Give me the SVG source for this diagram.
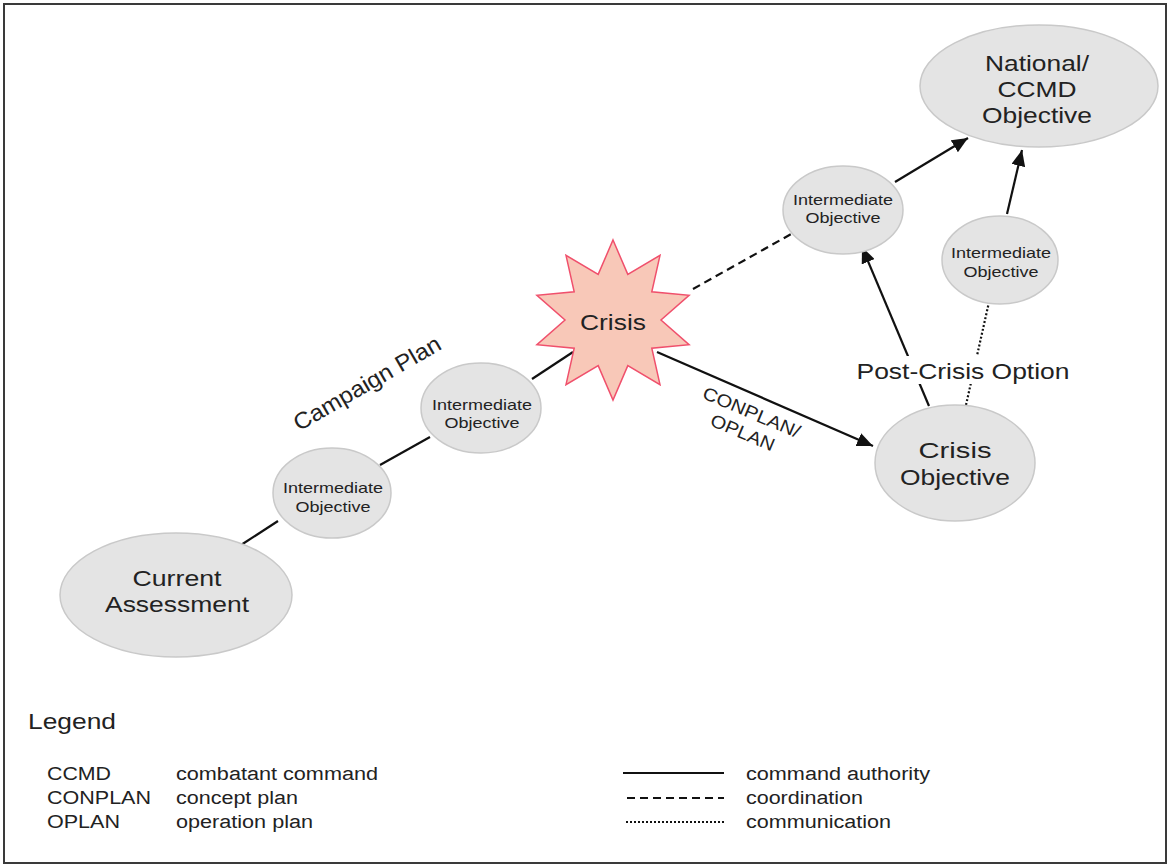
<svg xmlns="http://www.w3.org/2000/svg" width="1169" height="865" viewBox="0 0 1169 865">
<style>
  .node { fill: #e4e4e4; stroke: #c9c9c9; stroke-width: 1.5; }
  .t { font-family: "Liberation Sans", Arial, sans-serif; fill: #222; }
  .big { font-size: 22px; text-anchor: middle; }
  .small { font-size: 15px; text-anchor: middle; }
  .leg { font-size: 18px; }
  .line { stroke: #111; stroke-width: 2.2; fill: none; }
  .dash { stroke-dasharray: 8 5; }
  .dot { stroke-dasharray: 2 2; }
</style>
<defs>
  <marker id="arrow" markerUnits="userSpaceOnUse" markerWidth="18" markerHeight="14" refX="16" refY="7" orient="auto">
    <path d="M0,0 L16,7 L0,14 Z" fill="#111"/>
  </marker>
</defs>
<rect x="0" y="0" width="1169" height="865" fill="#ffffff"/>
<rect x="4" y="4" width="1162" height="859" fill="none" stroke="#3a3a3a" stroke-width="2"/>

<g id="connectors">
  <line class="line" x1="241" y1="545" x2="278" y2="521"/>
  <line class="line" x1="380" y1="465" x2="430" y2="437"/>
  <line class="line" x1="532" y1="379" x2="573" y2="352"/>
  <line class="line" x1="657" y1="352" x2="873" y2="446" marker-end="url(#arrow)"/>
  <line class="line dash" x1="693" y1="289" x2="802" y2="228"/>
  <line class="line" x1="895" y1="182" x2="968" y2="138" marker-end="url(#arrow)"/>
  <line class="line" x1="929" y1="406" x2="862" y2="247" marker-end="url(#arrow)"/>
  <line class="line dot" x1="966" y1="405" x2="989" y2="302"/>
  <line class="line" x1="1007" y1="214" x2="1022" y2="150" marker-end="url(#arrow)"/>
  <text class="t" font-size="23" text-anchor="middle" textLength="166" lengthAdjust="spacingAndGlyphs" transform="translate(371,390) rotate(-30)">Campaign Plan</text>
  <g transform="translate(749,418) rotate(23)">
    <text class="t" font-size="18" text-anchor="middle" x="0" y="0" textLength="104" lengthAdjust="spacingAndGlyphs">CONPLAN/</text>
    <text class="t" font-size="18" text-anchor="middle" x="0" y="22" textLength="68" lengthAdjust="spacingAndGlyphs">OPLAN</text>
  </g>
  <rect x="853" y="356" width="221" height="28" fill="#ffffff"/>
  <text class="t big" x="963" y="379" textLength="213" lengthAdjust="spacingAndGlyphs">Post-Crisis Option</text>
</g>

<g id="national-objective">
  <ellipse class="node" cx="1039" cy="86" rx="119" ry="61"/>
  <text class="t big" x="1037" y="71" textLength="104" lengthAdjust="spacingAndGlyphs">National/</text>
  <text class="t big" x="1037" y="97" textLength="79" lengthAdjust="spacingAndGlyphs">CCMD</text>
  <text class="t big" x="1037" y="123" textLength="110" lengthAdjust="spacingAndGlyphs">Objective</text>
</g>

<g id="intermediate-top">
  <ellipse class="node" cx="843" cy="210" rx="60" ry="44"/>
  <text class="t small" x="843" y="205" textLength="100" lengthAdjust="spacingAndGlyphs">Intermediate</text>
  <text class="t small" x="843" y="223" textLength="75" lengthAdjust="spacingAndGlyphs">Objective</text>
</g>

<g id="intermediate-right">
  <ellipse class="node" cx="1000" cy="260" rx="58" ry="44"/>
  <text class="t small" x="1001" y="258" textLength="100" lengthAdjust="spacingAndGlyphs">Intermediate</text>
  <text class="t small" x="1001" y="277" textLength="75" lengthAdjust="spacingAndGlyphs">Objective</text>
</g>

<g id="crisis">
  <polygon points="613,240 627.8,274.4 660,255.3 651.8,291.8 689.1,295.3 661,320 689.1,344.7 651.8,348.2 660,384.7 627.8,365.6 613,400 598.2,365.6 566,384.7 574.2,348.2 536.9,344.7 565,320 536.9,295.3 574.2,291.8 566,255.3 598.2,274.4" fill="#f8c8b8" stroke="#f0506c" stroke-width="1.5"/>
  <text class="t big" x="613" y="330" textLength="66" lengthAdjust="spacingAndGlyphs">Crisis</text>
</g>

<g id="crisis-objective">
  <ellipse class="node" cx="955" cy="463" rx="80" ry="58"/>
  <text class="t big" x="955" y="458" textLength="73" lengthAdjust="spacingAndGlyphs">Crisis</text>
  <text class="t big" x="955" y="485" textLength="110" lengthAdjust="spacingAndGlyphs">Objective</text>
</g>

<g id="intermediate-2">
  <ellipse class="node" cx="481" cy="408" rx="60" ry="45"/>
  <text class="t small" x="482" y="410" textLength="100" lengthAdjust="spacingAndGlyphs">Intermediate</text>
  <text class="t small" x="482" y="428" textLength="75" lengthAdjust="spacingAndGlyphs">Objective</text>
</g>

<g id="intermediate-1">
  <ellipse class="node" cx="332" cy="493" rx="59" ry="45"/>
  <text class="t small" x="333" y="493" textLength="100" lengthAdjust="spacingAndGlyphs">Intermediate</text>
  <text class="t small" x="333" y="512" textLength="75" lengthAdjust="spacingAndGlyphs">Objective</text>
</g>

<g id="current-assessment">
  <ellipse class="node" cx="176" cy="595" rx="116" ry="62"/>
  <text class="t big" x="177" y="586" textLength="89" lengthAdjust="spacingAndGlyphs">Current</text>
  <text class="t big" x="177" y="612" textLength="144" lengthAdjust="spacingAndGlyphs">Assessment</text>
</g>

<g id="legend">
  <text class="t" x="28" y="729" font-size="22" textLength="88" lengthAdjust="spacingAndGlyphs">Legend</text>
  <text class="t leg" x="47" y="780" textLength="64" lengthAdjust="spacingAndGlyphs">CCMD</text>
  <text class="t leg" x="47" y="804" textLength="104" lengthAdjust="spacingAndGlyphs">CONPLAN</text>
  <text class="t leg" x="47" y="828" textLength="73" lengthAdjust="spacingAndGlyphs">OPLAN</text>
  <text class="t leg" x="176" y="780" textLength="202" lengthAdjust="spacingAndGlyphs">combatant command</text>
  <text class="t leg" x="176" y="804" textLength="122" lengthAdjust="spacingAndGlyphs">concept plan</text>
  <text class="t leg" x="176" y="828" textLength="137" lengthAdjust="spacingAndGlyphs">operation plan</text>
  <line class="line" x1="623" y1="773" x2="724" y2="773"/>
  <line class="line dash" x1="627" y1="798" x2="724" y2="798"/>
  <line class="line dot" stroke-width="1.6" x1="626" y1="822" x2="724" y2="822"/>
  <text class="t leg" x="746" y="780" textLength="184" lengthAdjust="spacingAndGlyphs">command authority</text>
  <text class="t leg" x="746" y="804" textLength="117" lengthAdjust="spacingAndGlyphs">coordination</text>
  <text class="t leg" x="746" y="828" textLength="145" lengthAdjust="spacingAndGlyphs">communication</text>
</g>
</svg>
